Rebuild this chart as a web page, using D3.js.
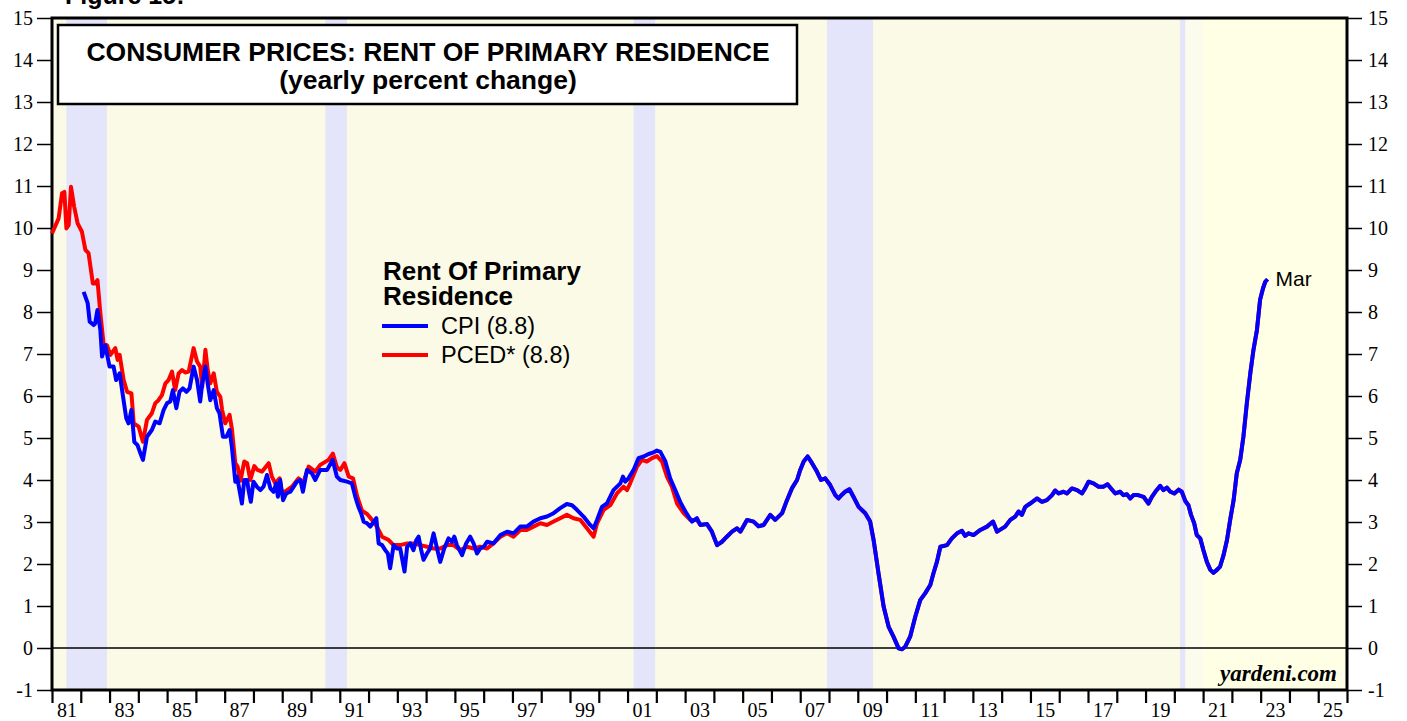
<!DOCTYPE html>
<html>
<head>
<meta charset="utf-8">
<script src="https://cdn.jsdelivr.net/npm/d3@7"></script>
<style>
  body { margin: 0; background: #fff; }
  svg { display: block; }
</style>
</head>
<body>
<div id="chart"></div>
<script>
// yearly % change as [decimal year, value]
var pcedEarly = [
  [1981.00,9.87],[1981.23,10.23],[1981.35,10.83],[1981.43,10.86],[1981.50,9.99],[1981.58,10.07],[1981.66,10.98],
  [1981.77,10.51],[1981.89,10.11],[1982.04,9.91],[1982.16,9.48],[1982.27,9.40],[1982.42,8.68],[1982.50,8.68],
  [1982.58,8.76],[1982.68,7.97],[1982.79,7.25],[1982.91,7.21],[1983.03,6.98],[1983.20,7.14],[1983.28,6.86],
  [1983.35,6.98],[1983.49,6.38],[1983.61,6.10],[1983.76,6.06],[1983.84,5.35],[1984.01,5.27],[1984.16,4.91],
  [1984.30,5.43],[1984.47,5.59],[1984.59,5.83],[1984.70,5.90],[1984.82,6.02],[1984.94,6.30],[1985.05,6.38],
  [1985.17,6.58],[1985.28,6.14],[1985.40,6.54],[1985.52,6.62],[1985.63,6.56],[1985.75,6.58],[1985.92,7.14],
  [1986.04,6.82],[1986.15,6.70],[1986.22,6.22],[1986.33,7.10],[1986.41,6.62],[1986.50,6.30],[1986.62,6.54],
  [1986.73,6.10],[1986.85,5.98],[1986.91,5.67],[1987.02,5.35],[1987.17,5.55],[1987.25,5.22],[1987.37,4.40],
  [1987.45,4.32],[1987.55,3.98],[1987.68,4.44],[1987.78,4.40],[1987.89,4.00],[1988.03,4.33],[1988.14,4.24],
  [1988.30,4.20],[1988.53,4.40],[1988.64,4.08],[1988.76,3.92],[1988.91,4.04],[1988.99,3.68],[1989.17,3.76],
  [1989.34,3.84],[1989.57,4.04],[1989.72,3.92],[1989.92,4.32],[1990.15,4.20],[1990.32,4.36],[1990.61,4.48],
  [1990.76,4.63],[1990.90,4.30],[1991.02,4.24],[1991.16,4.40],[1991.31,4.08],[1991.46,4.04],[1991.60,3.62],
  [1991.77,3.27],[1991.95,3.19],[1992.12,3.05],[1992.29,2.89],[1992.47,2.65],[1992.70,2.57],[1992.87,2.45],
  [1993.10,2.45],[1993.34,2.49],[1993.56,2.49],[1993.80,2.45],[1994.03,2.41],[1994.26,2.37],[1994.49,2.37],
  [1994.73,2.45],[1994.95,2.45],[1995.19,2.33],[1995.42,2.41],[1995.65,2.37],[1995.88,2.41],[1996.12,2.37],
  [1996.34,2.49],[1996.58,2.65],[1996.81,2.73],[1997.04,2.65],[1997.27,2.81],[1997.50,2.81],[1997.73,2.89],
  [1997.97,2.97],[1998.20,2.93],[1998.43,3.01],[1998.66,3.09],[1998.89,3.17],[1999.12,3.09],[1999.36,3.05],
  [1999.59,2.85],[1999.82,2.65],[1999.94,2.97],[2000.17,3.29],[2000.40,3.40],[2000.63,3.68],[2000.86,3.84],
  [2000.98,3.76],[2001.09,3.92],[2001.33,4.32],[2001.50,4.48],[2001.67,4.44],[2001.85,4.52],[2002.02,4.57],
  [2002.20,4.44],[2002.37,4.08],[2002.54,3.84],[2002.72,3.44],[2002.95,3.21],[2003.18,3.05],[2003.41,3.05]
];

var cpiEarly = [
  [1982.10,8.48],[1982.24,8.21],[1982.31,7.77],[1982.45,7.69],[1982.50,7.73],[1982.58,8.05],[1982.68,7.57],
  [1982.74,6.94],[1982.85,7.21],[1983.00,6.70],[1983.14,6.70],[1983.23,6.38],[1983.35,6.54],[1983.47,5.98],
  [1983.58,5.47],[1983.66,5.35],[1983.76,5.67],[1983.86,4.91],[1983.97,4.83],[1984.07,4.64],[1984.16,4.48],
  [1984.30,5.03],[1984.47,5.19],[1984.59,5.39],[1984.74,5.35],[1984.88,5.67],[1985.00,5.83],[1985.11,5.87],
  [1985.20,6.14],[1985.32,5.71],[1985.43,6.10],[1985.55,6.18],[1985.67,6.10],[1985.78,6.18],[1985.92,6.70],
  [1986.04,6.38],[1986.15,5.87],[1986.22,6.30],[1986.33,6.70],[1986.41,6.30],[1986.50,5.90],[1986.62,6.14],
  [1986.73,5.71],[1986.82,5.59],[1986.94,5.03],[1987.06,5.03],[1987.17,5.19],[1987.25,4.79],[1987.37,3.96],
  [1987.43,4.08],[1987.60,3.44],[1987.68,4.00],[1987.78,4.00],[1987.83,3.76],[1987.91,3.48],[1988.00,3.96],
  [1988.12,3.84],[1988.24,3.76],[1988.35,3.84],[1988.47,4.12],[1988.59,3.80],[1988.70,3.72],[1988.79,3.92],
  [1988.85,3.60],[1988.93,4.00],[1989.03,3.52],[1989.14,3.68],[1989.28,3.72],[1989.40,3.84],[1989.51,3.96],
  [1989.63,4.00],[1989.72,3.72],[1989.86,4.24],[1990.03,4.16],[1990.15,4.00],[1990.32,4.24],[1990.56,4.24],
  [1990.75,4.48],[1990.90,4.08],[1991.02,4.00],[1991.25,3.96],[1991.42,3.92],[1991.54,3.60],[1991.65,3.36],
  [1991.74,3.21],[1991.83,3.01],[1991.95,2.97],[1992.06,2.89],[1992.27,3.09],[1992.35,2.49],[1992.47,2.45],
  [1992.58,2.33],[1992.67,2.25],[1992.75,1.90],[1992.87,2.45],[1992.99,2.37],[1993.10,2.37],[1993.25,1.82],
  [1993.34,2.41],[1993.45,2.49],[1993.56,2.33],[1993.66,2.57],[1993.74,2.65],[1993.83,2.33],[1993.91,2.10],
  [1994.03,2.25],[1994.14,2.37],[1994.26,2.73],[1994.38,2.37],[1994.49,2.05],[1994.63,2.37],[1994.78,2.61],
  [1994.90,2.53],[1994.98,2.65],[1995.07,2.45],[1995.25,2.21],[1995.39,2.49],[1995.53,2.65],[1995.65,2.49],
  [1995.77,2.25],[1995.88,2.37],[1996.00,2.41],[1996.12,2.53],[1996.34,2.49],[1996.58,2.69],[1996.81,2.77],
  [1997.04,2.73],[1997.27,2.89],[1997.50,2.89],[1997.73,3.01],[1997.97,3.09],[1998.20,3.13],[1998.43,3.21],
  [1998.66,3.33],[1998.89,3.43],[1999.07,3.40],[1999.24,3.29],[1999.47,3.13],[1999.70,2.93],[1999.82,2.85],
  [1999.94,3.05],[2000.11,3.36],[2000.28,3.44],[2000.51,3.76],[2000.75,3.92],[2000.84,4.08],[2000.92,3.96],
  [2001.03,4.04],[2001.21,4.24],[2001.38,4.52],[2001.56,4.56],[2001.73,4.62],[2001.88,4.65],[2002.02,4.70],
  [2002.14,4.67],[2002.31,4.45],[2002.48,4.04],[2002.63,3.80],[2002.83,3.48],[2003.01,3.25],[2003.12,3.13],
  [2003.24,3.01],[2003.41,3.09]
];

// from mid-2003 on, both series sit on top of each other
var bothLate = [
  [2003.53,2.93],[2003.76,2.95],[2003.93,2.77],[2004.11,2.45],[2004.28,2.53],[2004.45,2.65],[2004.63,2.77],
  [2004.80,2.85],[2004.92,2.77],[2005.15,3.05],[2005.38,3.01],[2005.55,2.90],[2005.73,2.93],[2005.96,3.17],
  [2006.13,3.05],[2006.37,3.21],[2006.54,3.52],[2006.71,3.80],[2006.89,4.00],[2007.00,4.24],[2007.12,4.44],
  [2007.26,4.56],[2007.41,4.40],[2007.58,4.20],[2007.72,4.00],[2007.87,4.04],[2008.04,3.88],[2008.22,3.64],
  [2008.33,3.56],[2008.45,3.65],[2008.56,3.72],[2008.71,3.78],[2008.85,3.60],[2009.03,3.36],[2009.26,3.21],
  [2009.43,3.01],[2009.55,2.57],[2009.72,1.78],[2009.90,0.98],[2010.07,0.51],[2010.24,0.27],[2010.42,-0.01],
  [2010.54,-0.03],[2010.65,0.03],[2010.82,0.27],[2011.00,0.75],[2011.17,1.14],[2011.34,1.30],[2011.52,1.50],
  [2011.63,1.78],[2011.75,2.05],[2011.87,2.41],[2012.10,2.45],[2012.27,2.61],[2012.45,2.73],[2012.62,2.79],
  [2012.73,2.67],[2012.85,2.73],[2013.02,2.69],[2013.26,2.81],[2013.49,2.89],[2013.70,3.01],[2013.84,2.77],
  [2014.12,2.89],[2014.30,3.05],[2014.47,3.13],[2014.59,3.25],[2014.70,3.17],[2014.82,3.36],[2014.99,3.44],
  [2015.23,3.56],[2015.40,3.48],[2015.57,3.52],[2015.75,3.64],[2015.86,3.75],[2015.98,3.68],[2016.15,3.72],
  [2016.27,3.68],[2016.44,3.80],[2016.62,3.76],[2016.79,3.68],[2016.90,3.80],[2017.02,3.96],[2017.19,3.92],
  [2017.37,3.84],[2017.53,3.84],[2017.68,3.90],[2017.80,3.80],[2017.95,3.68],[2018.12,3.72],[2018.23,3.64],
  [2018.35,3.66],[2018.47,3.56],[2018.58,3.64],[2018.74,3.64],[2018.93,3.60],[2019.10,3.44],[2019.22,3.60],
  [2019.34,3.72],[2019.51,3.86],[2019.62,3.76],[2019.74,3.82],[2019.86,3.72],[2020.00,3.68],[2020.15,3.77],
  [2020.26,3.72],[2020.38,3.50],[2020.49,3.40],[2020.58,3.17],[2020.69,2.97],[2020.78,2.69],[2020.90,2.61],
  [2021.01,2.33],[2021.13,2.05],[2021.25,1.86],[2021.36,1.79],[2021.48,1.86],[2021.59,1.94],[2021.71,2.21],
  [2021.83,2.57],[2021.94,3.05],[2022.06,3.52],[2022.17,4.16],[2022.29,4.48],[2022.40,5.03],[2022.52,5.83],
  [2022.64,6.54],[2022.75,7.10],[2022.87,7.57],[2022.98,8.29],[2023.08,8.56],[2023.16,8.72],[2023.24,8.78]
];

var recessions = [[1981.50, 1982.91], [1990.50, 1991.25], [2001.21, 2001.96], [2007.93, 2009.53], [2020.20, 2020.38]];
var yTicks = d3.range(-1, 16);
var xLabelYears = d3.range(1981, 2026, 2);

var width = 1407, height = 721;
var plotL = 52, plotR = 1347, plotT = 18, plotB = 690;

var x = d3.scaleLinear().domain([1981, 2026]).range([plotL, plotR]);
var y = d3.scaleLinear().domain([-1, 15]).range([plotB, plotT]);

var svg = d3.select('#chart').append('svg')
    .attr('width', width)
    .attr('height', height)
    .style('font-family', 'Liberation Sans, Arial, sans-serif');

// "Figure" caption, mostly cut off at the top
svg.append('text')
    .attr('x', 65).attr('y', 4)
    .style('font-size', '25px').style('font-weight', 'bold')
    .text('Figure 15:');

// plot background
svg.append('rect')
    .attr('x', plotL).attr('y', plotT)
    .attr('width', plotR - plotL).attr('height', plotB - plotT)
    .attr('fill', '#fafae6');
svg.append('rect')
    .attr('x', x(2020.38)).attr('y', plotT)
    .attr('width', x(2021) - x(2020.38)).attr('height', plotB - plotT)
    .attr('fill', '#fcfcee');
svg.append('rect')
    .attr('x', x(2021)).attr('y', plotT)
    .attr('width', plotR - x(2021)).attr('height', plotB - plotT)
    .attr('fill', '#ffffe6');

svg.append('g').selectAll('rect')
    .data(recessions)
    .enter().append('rect')
    .attr('x', function(d) { return x(d[0]); })
    .attr('y', plotT)
    .attr('width', function(d) { return x(d[1]) - x(d[0]); })
    .attr('height', plotB - plotT)
    .attr('fill', '#e4e4fa');

// zero line
svg.append('line')
    .attr('x1', plotL).attr('x2', plotR)
    .attr('y1', y(0)).attr('y2', y(0))
    .attr('stroke', '#000').attr('stroke-width', 1.3);

// y axes
var styleAxis = function(g) {
    g.select('.domain').remove();
    g.selectAll('.tick line').attr('stroke', '#000').attr('stroke-width', 1.5);
    g.selectAll('.tick text')
        .attr('fill', '#000')
        .style('font-family', 'Liberation Serif, Times New Roman, serif')
        .style('font-size', '20px');
};

// plain hyphen for negatives, like the original
var yFormat = function(d) { return String(d); };

svg.append('g')
    .attr('transform', 'translate(' + plotL + ',0)')
    .call(d3.axisLeft(y).tickValues(yTicks).tickSize(15).tickPadding(4).tickFormat(yFormat))
    .call(styleAxis);

svg.append('g')
    .attr('transform', 'translate(' + plotR + ',0)')
    .call(d3.axisRight(y).tickValues(yTicks).tickSize(15).tickPadding(6).tickFormat(yFormat))
    .call(styleAxis);

// x axis: a tick at each year boundary, labels centred in odd years
svg.append('g')
    .attr('transform', 'translate(0,' + plotB + ')')
    .call(d3.axisBottom(x).tickValues(d3.range(1981, 2027)).tickSize(13).tickFormat(''))
    .call(function(g) {
        g.select('.domain').remove();
        g.selectAll('.tick line').attr('stroke', '#000').attr('stroke-width', 2.2);
    });

svg.append('g')
    .attr('transform', 'translate(0,' + plotB + ')')
    .call(d3.axisBottom(x)
        .tickValues(xLabelYears.map(function(d) { return d + 0.5; }))
        .tickSize(0).tickPadding(13)
        .tickFormat(function(d) { return String(Math.floor(d) % 100).padStart(2, '0'); }))
    .call(styleAxis);

// frame
svg.append('rect')
    .attr('x', plotL).attr('y', plotT)
    .attr('width', plotR - plotL).attr('height', plotB - plotT)
    .attr('fill', 'none').attr('stroke', '#000').attr('stroke-width', 3);

// series
var line = d3.line()
    .x(function(d) { return x(d[0]); })
    .y(function(d) { return y(d[1]); })
    .curve(d3.curveLinear);

svg.append('path')
    .datum(pcedEarly.concat(bothLate))
    .attr('d', line)
    .attr('fill', 'none').attr('stroke', '#ff0000')
    .attr('stroke-width', 4).attr('stroke-linejoin', 'round');

svg.append('path')
    .datum(cpiEarly.concat(bothLate))
    .attr('d', line)
    .attr('fill', 'none').attr('stroke', '#0000ff')
    .attr('stroke-width', 4).attr('stroke-linejoin', 'round');

var last = bothLate[bothLate.length - 1];
svg.append('text')
    .attr('x', x(last[0]) + 8).attr('y', y(last[1]) + 7)
    .style('font-size', '21px')
    .text('Mar');

// title box
svg.append('rect')
    .attr('x', 58).attr('y', 25)
    .attr('width', 739).attr('height', 79)
    .attr('fill', '#fff').attr('stroke', '#000').attr('stroke-width', 2.5);

svg.append('text')
    .attr('x', 428).attr('y', 61)
    .attr('text-anchor', 'middle')
    .style('font-size', '26.5px').style('font-weight', 'bold')
    .text('CONSUMER PRICES: RENT OF PRIMARY RESIDENCE');

svg.append('text')
    .attr('x', 428).attr('y', 89)
    .attr('text-anchor', 'middle')
    .style('font-size', '26.5px').style('font-weight', 'bold')
    .text('(yearly percent change)');

// legend
var legend = svg.append('g');
legend.append('text')
    .attr('x', 383).attr('y', 280)
    .style('font-size', '26px').style('font-weight', 'bold')
    .text('Rent Of Primary');
legend.append('text')
    .attr('x', 383).attr('y', 305)
    .style('font-size', '26px').style('font-weight', 'bold')
    .text('Residence');

var items = [
    { label: 'CPI (8.8)', color: '#0000ff', y: 326 },
    { label: 'PCED* (8.8)', color: '#ff0000', y: 355 }
];
items.forEach(function(d) {
    legend.append('line')
        .attr('x1', 382).attr('x2', 428)
        .attr('y1', d.y).attr('y2', d.y)
        .attr('stroke', d.color).attr('stroke-width', 4);
    legend.append('text')
        .attr('x', 441).attr('y', d.y + 8)
        .style('font-size', '23.5px')
        .text(d.label);
});

svg.append('text')
    .attr('x', 1337).attr('y', 681)
    .attr('text-anchor', 'end')
    .style('font-family', 'Liberation Serif, Times New Roman, serif')
    .style('font-size', '23px').style('font-weight', 'bold').style('font-style', 'italic')
    .text('yardeni.com');
</script>
</body>
</html>
